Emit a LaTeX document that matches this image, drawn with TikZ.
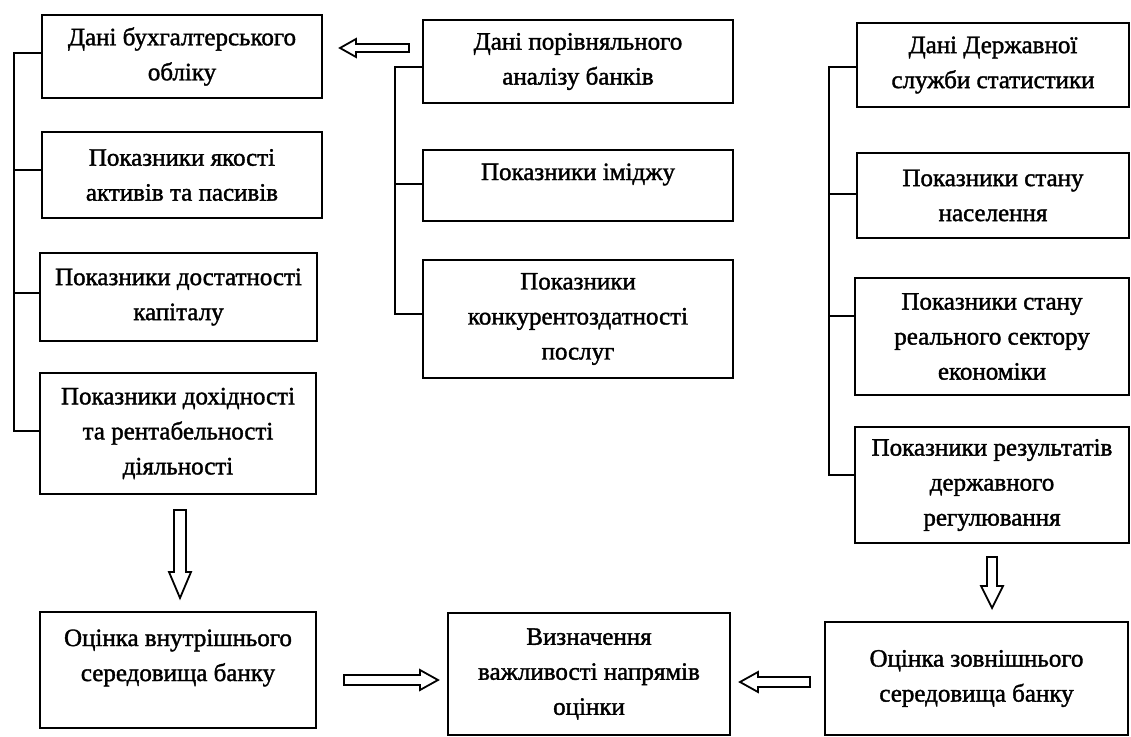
\documentclass[tikz,border=0pt]{standalone}
\usepackage{fontspec}
\setmainfont{Liberation Serif}
\newfontfamily\heavyfont{Liberation Serif}[FakeBold=1.5]
\usetikzlibrary{calc}
\tikzset{
  box/.style={draw, line width=2.4pt, align=center, inner sep=0pt,
    font=\heavyfont\fontsize{25}{35}\selectfont},
  conn/.style={line width=2pt},
  barrow/.style={draw, line width=1.8pt, fill=white, line join=miter},
}
% #1 start, #2 tip, #3 shaft half-width, #4 head half-width, #5 head length
\newcommand\blockarrow[5]{%
  \draw[barrow] ($(#1)!#3!90:(#2)$)
    -- ($(#2)!#5!(#1)!#3!-90:(#1)$)
    -- ($(#2)!#5!(#1)!#4!-90:(#1)$)
    -- (#2)
    -- ($(#2)!#5!(#1)!#4!90:(#1)$)
    -- ($(#2)!#5!(#1)!#3!90:(#1)$)
    -- ($(#1)!#3!-90:(#2)$) -- cycle;}
\begin{document}
\begin{tikzpicture}[x=1pt,y=-1pt]
\useasboundingbox (0,0) rectangle (1131,736);
\fill[white] (0,0) rectangle (1131,736);

% left column
\node[box, minimum width=280pt, minimum height=83pt] (L1) at (182,56.5) {Дані бухгалтерського\\обліку};
\node[box, minimum width=280pt, minimum height=86pt] (L2) at (182,175) {Показники якості\\активів та пасивів};
\node[box, minimum width=277pt, minimum height=88pt] (L3) at (178.5,297) {Показники достатності\\капіталу};
\node[box, minimum width=276pt, minimum height=121pt] (L4) at (178,433.5) {Показники дохідності\\та рентабельності\\діяльності};

% middle column
\node[box, minimum width=310pt, minimum height=83pt] (M1) at (578,61.5) {Дані порівняльного\\аналізу банків};
\node[box, minimum width=310pt, minimum height=71pt] (M2) at (578,185.5) {Показники іміджу\\[-18pt]\strut};
\node[box, minimum width=310pt, minimum height=118pt] (M3) at (578,319) {Показники\\конкурентоздатності\\послуг};

% right column
\node[box, minimum width=272pt, minimum height=84pt] (R1) at (993,65) {Дані Державної\\служби статистики};
\node[box, minimum width=272pt, minimum height=85pt] (R2) at (993,195.5) {Показники стану\\населення};
\node[box, minimum width=274pt, minimum height=117pt] (R3) at (992,336.5) {Показники стану\\реального сектору\\економіки};
\node[box, minimum width=274pt, minimum height=116pt] (R4) at (992,485) {Показники результатів\\державного\\регулювання};

% bottom row
\node[box, minimum width=276pt, minimum height=116pt] (B1) at (178,670) {Оцінка внутрішнього\\середовища банку\\[-16pt]\strut};
\node[box, minimum width=282pt, minimum height=122pt] (B2) at (589,674) {Визначення\\важливості напрямів\\оцінки};
\node[box, minimum width=303pt, minimum height=113pt] (B3) at (976.5,678.5) {Оцінка зовнішнього\\середовища банку};

% brackets
\coordinate (lb) at (14,0);
\coordinate (mb) at (395,0);
\coordinate (rb) at (829,0);

\draw[conn] ([yshift=4pt]L1.west) -- ([yshift=4pt]L1.west -| lb) -- ([yshift=3pt]L4.west -| lb) -- ([yshift=3pt]L4.west);
\draw[conn] ([yshift=5pt]L2.west) -- ([yshift=5pt]L2.west -| lb);
\draw[conn] ([yshift=4pt]L3.west) -- ([yshift=4pt]L3.west -| lb);

\draw[conn] ([yshift=-5pt]M1.west) -- ([yshift=-5pt]M1.west -| mb) -- ([yshift=5pt]M3.west -| mb) -- ([yshift=5pt]M3.west);
\draw[conn] ([yshift=2pt]M2.west) -- ([yshift=2pt]M2.west -| mb);

\draw[conn] ([yshift=-2pt]R1.west) -- ([yshift=-2pt]R1.west -| rb) -- ([yshift=10pt]R4.west -| rb) -- ([yshift=10pt]R4.west);
\draw[conn] ([yshift=2pt]R2.west) -- ([yshift=2pt]R2.west -| rb);
\draw[conn] ([yshift=21pt]R3.west) -- ([yshift=21pt]R3.west -| rb);

% block arrows
\coordinate (a1s) at (409,48);  \coordinate (a1e) at (340,48);
\coordinate (a2s) at (180,510); \coordinate (a2e) at (180,598);
\coordinate (a3s) at (344,680); \coordinate (a3e) at (438,680);
\coordinate (a4s) at (810,682); \coordinate (a4e) at (740,682);
\coordinate (a5s) at (992,557); \coordinate (a5e) at (992,608);
\blockarrow{a1s}{a1e}{4pt}{9pt}{16pt}
\blockarrow{a2s}{a2e}{6pt}{11pt}{26pt}
\blockarrow{a3s}{a3e}{5pt}{10pt}{18pt}
\blockarrow{a4s}{a4e}{5pt}{10pt}{18pt}
\blockarrow{a5s}{a5e}{5pt}{11pt}{22pt}
\end{tikzpicture}
\end{document}
